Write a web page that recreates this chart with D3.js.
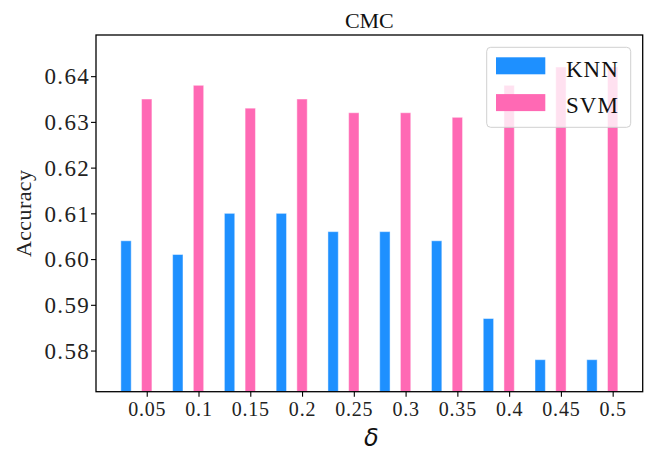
<!DOCTYPE html>
<html><head><meta charset="utf-8">
<script src="https://cdn.jsdelivr.net/npm/d3@7"></script>
<style>body{margin:0;background:#fff}svg{display:block}</style>
</head><body>
<svg id="c" width="649" height="454"></svg>
<script>
const categories = ["0.05","0.1","0.15","0.2","0.25","0.3","0.35","0.4","0.45","0.5"];
const knn = [0.604,0.601,0.610,0.610,0.606,0.606,0.604,0.587,0.578,0.578];
const svm = [0.635,0.638,0.633,0.635,0.632,0.632,0.631,0.638,0.642,0.642];
const yTicks = [0.58,0.59,0.60,0.61,0.62,0.63,0.64];
const seriesNames = ["KNN","SVM"];
const colors = ["#1e90ff","#ff69b4"];

const svg = d3.select("#c");
const L=96, R=642.7, T=35, B=391.7;
const x = d3.scaleLinear().domain([-0.98, 9.58]).range([L, R]);
const y = d3.scaleLinear().domain([0.571, 0.649]).range([B, T]);
const serif = "'Liberation Serif','Times New Roman',serif";
const bw = 0.2;

// bars
const series = [knn, svm];
const offsets = [-0.4, 0];
series.forEach((vals, s) => {
  svg.append("g").selectAll("rect").data(vals).join("rect")
    .attr("x", (d,i) => x(i + offsets[s] - bw/2))
    .attr("width", (d,i) => x(i + offsets[s] + bw/2) - x(i + offsets[s] - bw/2))
    .attr("y", d => y(d))
    .attr("height", d => B - y(d))
    .attr("fill", colors[s])
    .attr("stroke", "rgba(255,255,255,0.45)")
    .attr("stroke-width", 1);
});

// axes
const xAxis = d3.axisBottom(x).tickValues(d3.range(categories.length))
  .tickFormat(i => categories[i]).tickSize(5).tickSizeOuter(0);
const gx = svg.append("g").attr("transform", `translate(0,${B})`).call(xAxis);
gx.select(".domain").remove();
gx.selectAll(".tick line").attr("stroke","#000").attr("stroke-width",1.1);
gx.selectAll(".tick text").attr("font-family", serif).attr("font-size", 20)
  .attr("letter-spacing","0.8px").attr("fill","#222").attr("y", 10).attr("dy","0.71em");

const yAxis = d3.axisLeft(y).tickValues(yTicks).tickFormat(d3.format(".2f")).tickSize(5).tickSizeOuter(0);
const gy = svg.append("g").attr("transform", `translate(${L},0)`).call(yAxis);
gy.select(".domain").remove();
gy.selectAll(".tick line").attr("stroke","#000").attr("stroke-width",1.1);
gy.selectAll(".tick text").attr("font-family", serif).attr("font-size", 23)
  .attr("letter-spacing","1.3px").attr("fill","#222").attr("x", -6).attr("dy","0.34em");

// frame
svg.append("rect").attr("x", L).attr("y", T).attr("width", R-L).attr("height", B-T)
  .attr("fill","none").attr("stroke","#000").attr("stroke-width",1.3);

// title
svg.append("text").attr("x", (L+R)/2).attr("y", 27.5).attr("text-anchor","middle")
  .attr("font-family", serif).attr("font-size", 22).attr("fill","#111").text("CMC");

// y label
svg.append("text").attr("transform", `translate(31,${(T+B)/2}) rotate(-90)`)
  .attr("text-anchor","middle").attr("font-family", serif).attr("font-size", 22)
  .attr("letter-spacing","0.4px").attr("fill","#222").text("Accuracy");

// x label
svg.append("text").attr("x", (L+R)/2+2).attr("y", 446).attr("text-anchor","middle")
  .attr("font-family","'DejaVu Sans',sans-serif").attr("font-style","italic")
  .attr("font-size", 24).attr("fill","#111").text("δ");

// legend
const lg = svg.append("g");
lg.append("rect").attr("x", 486.7).attr("y", 47.3).attr("width", 144).attr("height", 80)
  .attr("rx", 4).attr("fill","rgba(255,255,255,0.8)").attr("stroke","#d0d0d0").attr("stroke-width",1);
seriesNames.forEach((n, k) => {
  lg.append("rect").attr("x", 496).attr("y", 57.3 + k*36.8).attr("width", 49.3).attr("height", 17)
    .attr("fill", colors[k]);
  lg.append("text").attr("x", 566).attr("y", 76.7 + k*36).attr("font-family", serif)
    .attr("font-size", 23).attr("letter-spacing","1px").attr("fill","#111").text(n);
});
</script>
</body></html>
